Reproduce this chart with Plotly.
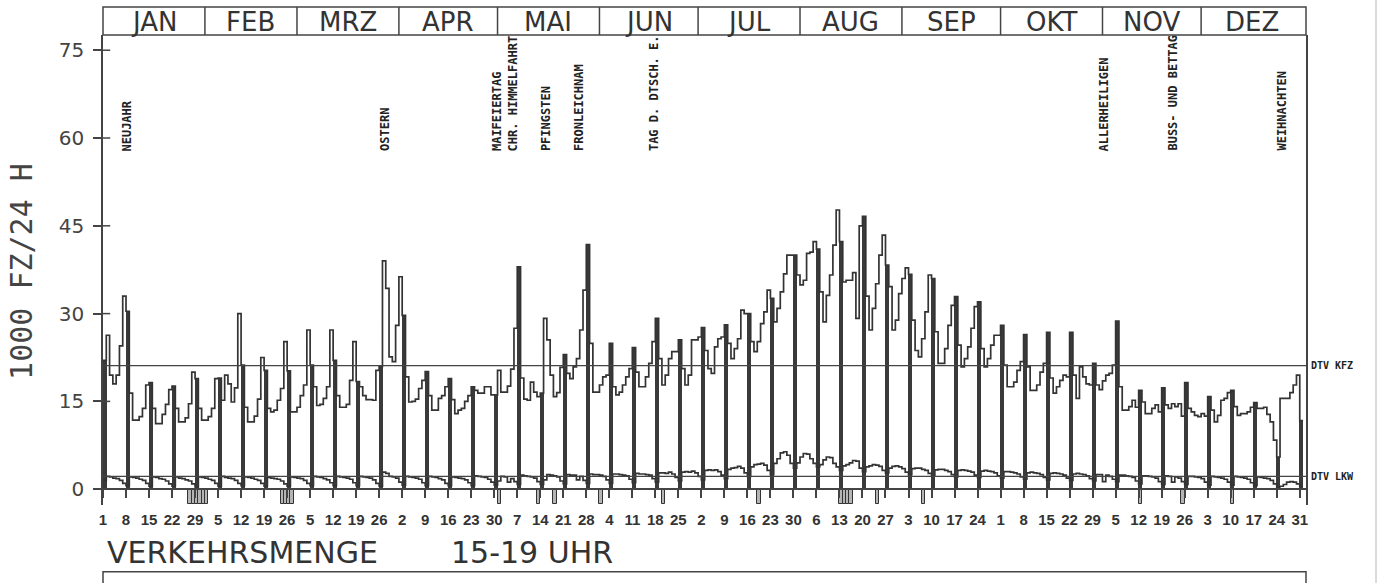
import plotly.graph_objects as go

# daily traffic (1000 Fz/24 h), one list per month, 1 Jan = Sunday
KFZ_JAN = [22.0, 26.3, 19.5, 18.0, 19.5, 24.5, 33.0, 30.4, 16.4, 11.8, 11.8, 12.4, 13.8, 17.8, 18.2, 13.8,
           11.2, 11.2, 12.8, 14.5, 17.0, 17.6, 13.8, 11.5, 11.5, 12.2, 14.6, 20.0, 18.9, 13.8, 11.8]
KFZ_FEB = [11.8, 12.4, 13.8, 18.9, 19.0, 15.2, 19.5, 18.0, 14.9, 17.3, 30.0, 21.2, 14.0, 11.5, 11.5, 12.5,
           15.4, 22.5, 20.3, 13.8, 13.2, 13.5, 15.2, 17.2, 25.2, 20.2, 13.2, 13.2]
KFZ_MAR = [14.0, 16.0, 17.8, 27.2, 21.2, 17.5, 14.3, 14.5, 15.5, 17.5, 27.2, 22.0, 16.0, 14.0, 14.0, 14.5,
           18.6, 25.2, 18.4, 17.5, 16.0, 15.3, 15.3, 15.2, 20.3, 21.0, 39.0, 34.3, 22.6, 21.8, 28.0]
KFZ_APR = [36.3, 29.7, 19.2, 14.9, 15.0, 15.4, 17.2, 18.6, 20.1, 16.0, 13.5, 13.5, 15.5, 16.0, 17.5, 18.9,
           15.3, 12.9, 13.5, 13.8, 15.0, 16.0, 17.5, 16.9, 16.4, 16.4, 17.5, 17.5, 16.1, 16.1]
KFZ_MAY = [20.3, 16.6, 16.6, 17.6, 20.5, 27.5, 38.0, 19.0, 15.4, 15.2, 18.3, 16.6, 15.8, 16.4, 29.2, 25.5,
           19.5, 15.8, 16.5, 20.8, 23.0, 19.8, 18.9, 20.9, 22.3, 27.2, 34.0, 41.8, 24.9, 16.6, 16.6]
KFZ_JUN = [17.8, 19.2, 19.5, 24.9, 17.5, 16.1, 16.6, 17.8, 19.2, 20.6, 24.2, 20.0, 17.5, 17.5, 19.2, 21.5,
           25.2, 29.2, 22.3, 17.8, 19.5, 22.3, 23.5, 23.5, 25.5, 20.6, 17.8, 19.5, 25.5, 25.5]
KFZ_JUL = [26.0, 27.6, 23.7, 20.6, 19.8, 24.3, 25.7, 26.0, 28.1, 24.9, 22.3, 24.0, 25.7, 30.6, 30.0, 30.0,
           25.2, 23.5, 25.2, 28.3, 30.3, 34.0, 32.6, 28.6, 30.9, 33.7, 36.8, 40.0, 40.0, 40.0, 36.6]
KFZ_AUG = [34.9, 35.7, 40.3, 40.5, 42.3, 41.0, 33.7, 28.6, 33.1, 36.6, 41.7, 47.7, 42.3, 35.4, 35.7, 35.7,
           37.0, 29.2, 45.0, 46.6, 33.0, 27.2, 30.9, 35.1, 40.0, 43.4, 38.3, 34.6, 27.2, 28.9, 33.4]
KFZ_SEP = [36.0, 37.8, 36.7, 28.9, 23.7, 22.6, 25.7, 30.3, 36.6, 36.0, 26.9, 21.5, 21.5, 24.0, 28.0, 31.4,
           32.9, 24.6, 20.9, 22.3, 24.3, 27.5, 31.2, 32.0, 24.0, 20.9, 22.3, 24.6, 26.3, 26.3]
KFZ_OKT = [28.0, 21.2, 17.5, 17.5, 18.3, 20.3, 21.8, 26.4, 20.9, 16.9, 16.9, 17.8, 20.0, 21.5, 26.8, 19.0,
           16.4, 17.5, 18.6, 19.5, 19.2, 26.8, 19.5, 15.5, 20.9, 19.2, 18.0, 17.8, 21.5, 17.8, 17.0]
KFZ_NOV = [18.5, 19.5, 19.8, 21.2, 28.7, 17.5, 13.5, 13.5, 14.1, 15.2, 14.0, 16.9, 14.9, 12.9, 12.9, 13.8,
           14.4, 13.2, 17.3, 14.4, 13.8, 14.6, 14.1, 14.6, 12.5, 18.2, 13.8, 13.2, 12.6, 12.4]
KFZ_DEZ = [12.9, 12.5, 15.8, 13.5, 11.5, 12.6, 15.2, 15.5, 16.5, 16.9, 14.1, 12.6, 12.9, 12.9, 13.2, 14.0,
           14.8, 13.8, 13.8, 14.0, 12.8, 11.5, 8.4, 5.5, 15.5, 15.5, 15.5, 16.5, 17.8, 19.5, 11.7]

LKW_JAN = [1.5, 2.2, 2.1, 1.9, 1.8, 1.5, 1.0, 0.6, 2.1, 2.0, 1.9, 1.7, 1.5, 1.0, 0.5, 2.1,
           2.0, 1.8, 1.7, 1.4, 0.9, 0.5, 2.1, 1.9, 1.8, 1.6, 1.4, 0.9, 0.4, 2.1, 2.0]
LKW_FEB = [1.9, 1.7, 1.5, 1.0, 0.5, 2.2, 2.0, 1.9, 1.8, 1.5, 1.0, 0.6, 2.1, 2.0, 1.9, 1.7,
           1.5, 1.0, 0.5, 2.0, 1.9, 1.8, 1.7, 1.4, 0.9, 0.5, 2.1, 2.0]
LKW_MAR = [1.9, 1.8, 1.5, 1.0, 0.6, 2.2, 2.1, 2.0, 1.8, 1.6, 1.1, 0.6, 2.2, 2.1, 2.0, 1.9,
           1.7, 1.1, 0.6, 2.2, 2.1, 2.0, 1.9, 1.6, 1.0, 0.5, 2.9, 2.7, 2.2, 2.1, 1.9]
LKW_APR = [1.2, 0.7, 2.2, 2.1, 2.0, 1.9, 1.7, 1.1, 0.6, 2.2, 2.1, 2.0, 1.8, 1.6, 1.0, 0.6,
           2.1, 2.0, 1.9, 1.8, 1.6, 1.1, 0.6, 2.3, 2.2, 2.1, 2.0, 1.7, 1.2, 0.7]
LKW_MAY = [1.4, 2.2, 2.1, 1.2, 1.8, 1.3, 0.8, 2.4, 2.3, 2.2, 2.1, 1.9, 1.3, 0.8, 1.6, 2.5,
           2.4, 2.3, 2.1, 1.4, 0.9, 2.5, 2.4, 2.4, 1.6, 2.2, 1.5, 1.0, 2.6, 2.5, 2.5]
LKW_JUN = [2.4, 2.2, 1.6, 1.0, 2.6, 2.6, 2.5, 2.4, 2.3, 1.7, 1.1, 2.7, 2.6, 2.6, 2.5, 2.4,
           1.8, 1.2, 2.8, 2.8, 2.7, 2.9, 2.6, 2.0, 1.4, 2.9, 3.0, 2.9, 3.1, 2.8]
LKW_JUL = [2.2, 1.6, 3.2, 3.3, 3.2, 3.3, 3.0, 2.4, 1.8, 3.4, 3.6, 3.7, 3.9, 3.6, 2.8, 2.2,
           3.8, 4.2, 4.3, 4.4, 4.1, 3.2, 2.5, 4.4, 5.2, 6.2, 6.4, 5.8, 4.4, 3.6, 4.5]
LKW_AUG = [5.5, 6.1, 6.0, 5.2, 4.4, 3.8, 4.2, 5.0, 5.5, 5.4, 4.4, 3.8, 3.2, 4.0, 4.2, 4.5,
           4.9, 4.8, 3.6, 3.0, 3.8, 4.0, 4.2, 4.1, 3.9, 3.2, 2.8, 3.6, 3.9, 4.0, 3.8]
LKW_SEP = [3.5, 2.9, 2.5, 3.5, 3.6, 3.6, 3.4, 3.2, 2.7, 2.3, 3.3, 3.4, 3.4, 3.2, 3.0, 2.5,
           2.1, 3.2, 3.3, 3.2, 3.1, 2.9, 2.4, 2.0, 3.1, 3.2, 3.1, 3.0, 2.8, 2.3]
LKW_OKT = [1.9, 3.0, 3.0, 2.9, 2.8, 2.6, 2.1, 1.7, 2.8, 2.9, 2.8, 2.7, 2.5, 2.0, 1.6, 2.7,
           2.8, 2.7, 2.6, 2.4, 1.9, 1.5, 2.6, 2.7, 2.6, 2.5, 2.3, 1.8, 1.4, 2.5, 2.5]
LKW_NOV = [1.3, 2.4, 2.2, 1.7, 1.3, 2.4, 2.4, 2.3, 2.2, 2.0, 1.4, 0.9, 2.3, 2.3, 2.2, 2.1,
           1.9, 1.3, 0.8, 2.3, 2.2, 1.2, 2.1, 1.9, 1.3, 0.8, 2.2, 2.2, 2.1, 2.0]
LKW_DEZ = [1.8, 1.2, 0.7, 2.2, 2.1, 2.0, 1.9, 1.7, 1.2, 0.7, 2.2, 2.1, 2.0, 1.9, 1.7, 1.1,
           0.6, 2.1, 2.0, 1.9, 1.8, 1.5, 0.9, 0.4, 0.5, 0.8, 1.2, 1.3, 1.2, 0.9, 0.5]

MONTHS = ["JAN", "FEB", "MRZ", "APR", "MAI", "JUN", "JUL", "AUG", "SEP", "OKT", "NOV", "DEZ"]
MONTH_DAYS = [31, 28, 31, 30, 31, 30, 31, 31, 30, 31, 30, 31]

# day of month under every Sunday tick
TICK_LABELS = [1, 8, 15, 22, 29, 5, 12, 19, 26, 5, 12, 19, 26, 2, 9, 16, 23, 30, 7, 14, 21, 28,
               4, 11, 18, 25, 2, 9, 16, 23, 30, 6, 13, 20, 27, 3, 10, 17, 24, 1, 8, 15, 22, 29,
               5, 12, 19, 26, 3, 10, 17, 24, 31]

HOLIDAY_NAMES = ["NEUJAHR", "OSTERN", "MAIFEIERTAG", "CHR. HIMMELFAHRT", "PFINGSTEN", "FRONLEICHNAM",
                 "TAG D. DTSCH. E.", "ALLERHEILIGEN", "BUSS- UND BETTAG", "WEIHNACHTEN"]
HOLIDAY_DAYS = [1, 86, 121, 124, 135, 145, 168, 305, 326, 359]

# marked days drawn below the zero line
MARK_DAYS = [27, 28, 29, 30, 31, 32, 55, 56, 57, 58, 121, 133, 138, 152, 171, 200,
             225, 226, 227, 228, 236, 250, 316, 329, 344]
MARK_DEPTH = -2.5

DTV_KFZ = 21.1
DTV_LKW = 2.2
Y_TICKS = [0, 15, 30, 45, 60, 75]

kfz = (KFZ_JAN + KFZ_FEB + KFZ_MAR + KFZ_APR + KFZ_MAY + KFZ_JUN +
       KFZ_JUL + KFZ_AUG + KFZ_SEP + KFZ_OKT + KFZ_NOV + KFZ_DEZ)
lkw = (LKW_JAN + LKW_FEB + LKW_MAR + LKW_APR + LKW_MAY + LKW_JUN +
       LKW_JUL + LKW_AUG + LKW_SEP + LKW_OKT + LKW_NOV + LKW_DEZ)
days = list(range(1, len(kfz) + 1))
sundays = days[::7]

Y_MIN, Y_MAX = -2.7, 77.6
X_MAX = 366.9
INK = "#333333"

fig = go.Figure()

# marked days below zero
fig.add_trace(go.Bar(x=[d + 0.5 for d in MARK_DAYS], y=[MARK_DEPTH] * len(MARK_DAYS), width=1.0,
                     marker=dict(color="#b5b5b5", line=dict(color=INK, width=1))))

# Sundays as filled bars
fig.add_trace(go.Bar(x=[d + 0.5 for d in sundays], y=[kfz[d - 1] for d in sundays], width=1.2,
                     marker=dict(color="#3a3a3a", line=dict(width=0))))

# daily values as step lines
fig.add_trace(go.Scatter(x=days + [days[-1] + 1], y=kfz + [kfz[-1]], mode="lines",
                         line=dict(color=INK, width=1.7, shape="hv")))
fig.add_trace(go.Scatter(x=days + [days[-1] + 1], y=lkw + [lkw[-1]], mode="lines",
                         line=dict(color=INK, width=1.7, shape="hv")))

shapes = []
annotations = []

# DTV lines
for val, label in [(DTV_KFZ, "DTV KFZ"), (DTV_LKW, "DTV LKW")]:
    shapes.append(dict(type="line", xref="paper", yref="y", x0=0, x1=1, y0=val, y1=val,
                       line=dict(color="#444", width=1.3)))
    annotations.append(dict(text=label, xref="paper", yref="y", x=1, y=val, xanchor="left",
                            yanchor="middle", xshift=3, showarrow=False,
                            font=dict(family="DejaVu Sans Mono", size=10, color="#222", weight="bold")))

# inner half of the y ticks
for t in Y_TICKS:
    shapes.append(dict(type="line", xref="paper", yref="y", x0=0, x1=0.006, y0=t, y1=t,
                       line=dict(color="#444", width=1.5)))

# month band on top
band_top = 1 + 28 / 470
shapes.append(dict(type="rect", xref="paper", yref="paper", x0=0, x1=1, y0=1, y1=band_top,
                   line=dict(color="#444", width=1.5)))
start = 1
for name, n in zip(MONTHS, MONTH_DAYS):
    if start > 1:
        shapes.append(dict(type="line", xref="x", yref="paper", x0=start, x1=start, y0=1, y1=band_top,
                           line=dict(color="#444", width=1.5)))
    annotations.append(dict(text=name, xref="x", yref="paper", x=start + n / 2, y=1.028,
                            xanchor="center", yanchor="middle", showarrow=False,
                            font=dict(family="DejaVu Sans", size=26, color=INK)))
    start += n

# holiday labels (the two early-May labels sit side by side)
label_shift = {"NEUJAHR": 22, "MAIFEIERTAG": -3, "CHR. HIMMELFAHRT": 4}
for name, d in zip(HOLIDAY_NAMES, HOLIDAY_DAYS):
    annotations.append(dict(text=name, x=d + 0.6, y=57.6, xref="x", yref="y", textangle=-90,
                            xanchor="center", yanchor="bottom", showarrow=False, borderpad=0,
                            xshift=label_shift.get(name, 0),
                            font=dict(family="DejaVu Sans Mono", size=12, color="#222", weight="bold")))

# axis title
annotations.append(dict(text="1000 FZ/24 H", xref="paper", yref="paper", x=-0.0673, y=0.496,
                        xanchor="center", yanchor="middle", textangle=-90, showarrow=False,
                        font=dict(family="DejaVu Sans Mono", size=30, color="#444")))

# caption of the next panel
annotations.append(dict(text="VERKEHRSMENGE", xref="paper", yref="paper", x=0.0017, y=-0.101,
                        xanchor="left", yanchor="middle", showarrow=False,
                        font=dict(family="DejaVu Sans", size=30, color=INK)))
annotations.append(dict(text="15-19 UHR", xref="paper", yref="paper", x=0.288, y=-0.101,
                        xanchor="left", yanchor="middle", showarrow=False,
                        font=dict(family="DejaVu Sans", size=30, color=INK)))
shapes.append(dict(type="rect", xref="paper", yref="paper", x0=0, x1=1, y0=-0.1419, y1=-0.3,
                   line=dict(color="#444", width=1.5)))

# scan edge
shapes.append(dict(type="line", xref="paper", yref="paper", x0=1.0582, x1=1.0582, y0=-0.2, y1=1.1,
                   line=dict(color="#cfcfcf", width=1.5)))

fig.update_layout(
    width=1380, height=583,
    margin=dict(l=103, r=74, t=35, b=78),
    paper_bgcolor="white", plot_bgcolor="white",
    showlegend=False, barmode="overlay", bargap=0,
    shapes=shapes, annotations=annotations,
    xaxis=dict(range=[1, X_MAX], anchor="free", position=(0 - Y_MIN) / (Y_MAX - Y_MIN),
               tickmode="array", tickvals=sundays, ticktext=[str(t) for t in TICK_LABELS],
               ticks="outside", ticklen=8, tickwidth=1.5, tickcolor="#444",
               showline=True, linecolor="#444", linewidth=1.5,
               showgrid=False, zeroline=False, ticklabelstandoff=9,
               tickfont=dict(family="Liberation Sans Narrow, Liberation Sans, Arial",
                             size=15, color=INK, weight="bold")),
    yaxis=dict(range=[Y_MIN, Y_MAX], tickmode="array", tickvals=Y_TICKS,
               ticks="outside", ticklen=8, tickwidth=1.5, tickcolor="#444",
               showline=True, mirror=True, linecolor="#444", linewidth=1.5,
               showgrid=False, zeroline=False, ticklabelstandoff=5,
               tickfont=dict(family="DejaVu Sans", size=20, color="#444")),
)

fig.write_html("out.html", config={"displayModeBar": False},
               post_script="document.body.style.margin='0';")
